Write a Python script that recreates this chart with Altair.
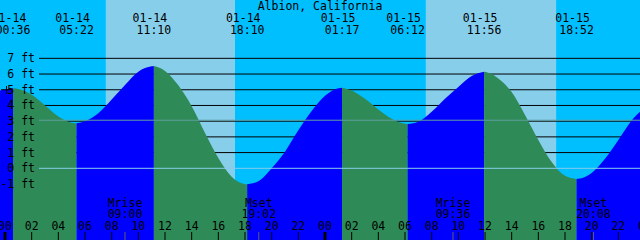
import altair as alt
import pandas as pd

W, H = 640, 240
X_MIN, X_MAX = -0.375, 47.625      # hours since 01-14 00:00
Y_MIN, Y_MAX = -4.564, 10.713      # feet
FONT = "DejaVu Sans Mono"
FS = 11.5

station = "Albion, California"

# tide extremes
extreme_dates = ["01-14", "01-14", "01-14", "01-14", "01-15", "01-15", "01-15", "01-15"]
extreme_times = ["00:36", "05:22", "11:10", "18:10", "01:17", "06:12", "11:56", "18:52"]
extreme_ft = [5.09, 2.86, 6.51, -1.02, 5.13, 2.82, 6.15, -0.68]

# tide level, hourly
sample_hours = [-0.375, 0, 1, 2, 3, 4, 5, 6, 7, 8, 9, 10, 11, 12, 13, 14, 15, 16, 17, 18, 19,
                20, 21, 22, 23, 24, 25, 26, 27, 28, 29, 30, 31, 32, 33, 34, 35, 36, 37, 38, 39,
                40, 41, 42, 43, 44, 45, 46, 47, 47.625]
sample_ft = [4.95, 5.02, 5.05, 4.68, 4.0, 3.3, 2.9, 3.0, 3.5, 4.38, 5.3, 6.15, 6.49, 6.2, 5.28,
             3.95, 2.25, 0.66, -0.54, -1.01, -0.83, 0.0, 1.06, 2.42, 3.65, 4.62, 5.1, 4.95, 4.42,
             3.75, 3.16, 2.84, 2.96, 3.6, 4.43, 5.18, 5.88, 6.14, 5.72, 4.85, 3.4, 1.8, 0.4,
             -0.48, -0.67, -0.3, 0.6, 1.8, 3.05, 3.6]

# sun (hours since 01-14 00:00): rise, set, rise, set
sun_events = [7.57, 17.25, 31.57, 41.33]

# moon
moon_labels = ["Mrise", "Mset", "Mrise", "Mset"]
moon_times = ["09:00", "19:02", "09:36", "20:08"]
moon_day = [0, 0, 1, 1]

depth_ft = [7, 6, 5, 4, 3, 2, 1, 0, -1]
grid_ft = [7, 6, 5, 4, 3, 2, 1]
datum_ft = 0.0
msl_ft = 3.06
marker_ft = 5.0   # small "+" marker at the left edge

tick_hours = list(range(0, 49, 2))
tick_labels = ["%02d" % (h % 24) for h in tick_hours]
midnight_hours = [0, 24, 48]

RISE, FALL = "#0000FF", "#2E8B57"
NIGHT, DAY = "#00BFFF", "#87CEEB"


def to_hours(day, hhmm):
    hh, mm = hhmm.split(":")
    return day * 24 + int(hh) + int(mm) / 60.0


ext_hours = [to_hours(0 if d == "01-14" else 1, t) for d, t in zip(extreme_dates, extreme_times)]

# build tide segments (between consecutive extremes)
pts = sorted(list(zip(sample_hours, sample_ft)) + list(zip(ext_hours, extreme_ft)))
bounds = [X_MIN - 1] + ext_hours + [X_MAX + 1]
rows = []
for k in range(len(bounds) - 1):
    a, b = bounds[k], bounds[k + 1]
    seg = [(h, v) for h, v in pts if a - 1e-9 <= h <= b + 1e-9]
    if len(seg) < 2:
        continue
    col = RISE if seg[-1][1] > seg[0][1] else FALL
    for h, v in seg:
        rows.append({"h": h, "ft": v, "seg": k, "col": col})
tide = pd.DataFrame(rows)

# sky periods
edges = [X_MIN] + sun_events + [X_MAX]
sky = pd.DataFrame({
    "h": edges[:-1], "h2": edges[1:],
    "col": [NIGHT if i % 2 == 0 else DAY for i in range(len(edges) - 1)],
})

xs = alt.Scale(domain=[X_MIN, X_MAX], nice=False, zero=False)
ys = alt.Scale(domain=[Y_MIN, Y_MAX], nice=False, zero=False)
X = alt.X("h:Q", scale=xs, axis=None)
Y = alt.Y("ft:Q", scale=ys, axis=None)


def txt(**kw):
    return dict(align="center", baseline="alphabetic", font=FONT, fontSize=FS, color="black", **kw)


sky_layer = alt.Chart(sky).mark_rect().encode(
    x=X, x2="h2:Q", y=alt.value(0), y2=alt.value(H),
    color=alt.Color("col:N", scale=None))

grid_layer = alt.Chart(pd.DataFrame({"ft": grid_ft})).mark_rule(
    color="black", strokeWidth=1).encode(y=Y, x=alt.value(39), x2=alt.value(W))

tide_layer = alt.Chart(tide).mark_area(interpolate="monotone").encode(
    x=X, y=alt.Y("ft:Q", scale=ys, axis=None, stack=None), y2=alt.value(H),
    color=alt.Color("col:N", scale=None), detail="seg:N")

datum_layer = alt.Chart(pd.DataFrame({"ft": [datum_ft]})).mark_rule(
    color="#87CEEB", strokeWidth=1).encode(y=Y, x=alt.value(39), x2=alt.value(W))
msl_layer = alt.Chart(pd.DataFrame({"ft": [msl_ft]})).mark_rule(
    color="#5F9EA0", strokeWidth=1).encode(y=Y, x=alt.value(39), x2=alt.value(W))

marker_df = pd.DataFrame({"ft": [marker_ft]})
marker_h = alt.Chart(marker_df).mark_rule(color="black", strokeWidth=1).encode(
    y=Y, x=alt.value(1), x2=alt.value(12))
marker_v = alt.Chart(marker_df).mark_rule(color="black", strokeWidth=1).encode(
    x=alt.value(6.5), y=alt.value(86), y2=alt.value(94))

depth_layer = alt.Chart(pd.DataFrame({
    "ft": depth_ft, "label": ["%d ft" % d for d in depth_ft]})).mark_text(
    **txt(dy=4) | {"align": "right"}).encode(x=alt.value(35), y=Y, text="label:N")

title_layer = alt.Chart(pd.DataFrame({"t": [station]})).mark_text(**txt()).encode(
    x=alt.value(W / 2), y=alt.value(10), text="t:N")

ext_df = pd.DataFrame({"h": ext_hours, "date": extreme_dates, "time": extreme_times})
ext_date_layer = alt.Chart(ext_df).mark_text(**txt(dx=-4)).encode(
    x=X, y=alt.value(22), text="date:N")
ext_time_layer = alt.Chart(ext_df).mark_text(**txt()).encode(
    x=X, y=alt.value(34), text="time:N")

moon_df = pd.DataFrame({
    "h": [to_hours(d, t) for d, t in zip(moon_day, moon_times)],
    "label": moon_labels, "time": moon_times})
moon_lbl_layer = alt.Chart(moon_df).mark_text(**txt()).encode(
    x=X, y=alt.value(206.5), text="label:N")
moon_time_layer = alt.Chart(moon_df).mark_text(**txt()).encode(
    x=X, y=alt.value(218), text="time:N")
moon_tick_layer = alt.Chart(moon_df).mark_rule(color="#606060", strokeWidth=1).encode(
    x=X, y=alt.value(232), y2=alt.value(H))

tick_df = pd.DataFrame({"h": tick_hours, "label": tick_labels})
tick_layer = alt.Chart(tick_df).mark_rule(color="black", strokeWidth=1).encode(
    x=X, y=alt.value(232), y2=alt.value(H))
tick_lbl_layer = alt.Chart(tick_df).mark_text(**txt()).encode(
    x=X, y=alt.value(229.5), text="label:N")
mid_layer = alt.Chart(pd.DataFrame({"h": midnight_hours})).mark_rule(
    color="black", strokeWidth=3).encode(x=X, y=alt.value(232), y2=alt.value(H))

chart = alt.layer(
    sky_layer, grid_layer, tide_layer, datum_layer, msl_layer, marker_h, marker_v,
    depth_layer, title_layer, ext_date_layer, ext_time_layer, moon_lbl_layer,
    moon_time_layer, moon_tick_layer, tick_layer, tick_lbl_layer, mid_layer,
).properties(
    width=W, height=H, padding=0, autosize=alt.AutoSizeParams(type="none"),
).configure_view(strokeWidth=0)

chart.save("out.html", embed_options={"renderer": "svg", "actions": False})
